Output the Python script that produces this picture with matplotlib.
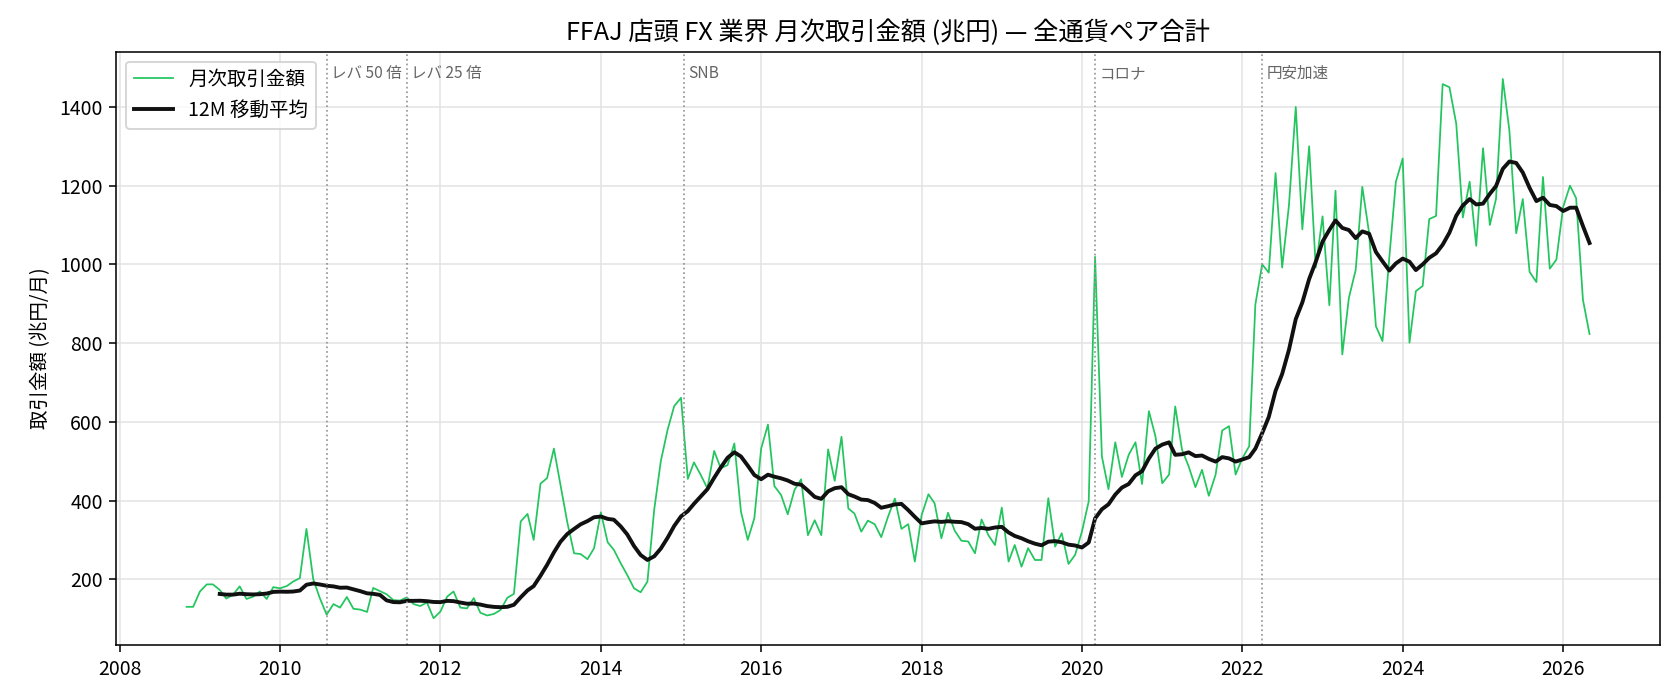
import numpy as np
import pandas as pd
import matplotlib
matplotlib.use("Agg")
import matplotlib.pyplot as plt
import matplotlib.dates as mdates

plt.rcParams['font.family'] = ['Noto Sans CJK JP', 'DejaVu Sans']
plt.rcParams['font.size'] = 10

# monthly volume (trillion yen), Nov 2008 - May 2026
start_month = "2008-11-01"
volume = [
    130, 130,
    169, 187, 187, 173, 151, 161, 182, 150, 156, 169, 150, 180,  # 2009
    177, 183, 194, 203, 328, 200, 152, 110, 137, 128, 155, 125,  # 2010
    123, 117, 178, 170, 162, 147, 146, 154, 137, 132, 141, 101,  # 2011
    118, 156, 169, 128, 126, 152, 115, 108, 112, 122, 153, 163,  # 2012
    347, 366, 300, 443, 457, 532, 440, 345, 266, 264, 251, 279,  # 2013
    370, 294, 275, 241, 211, 177, 167, 194, 377, 500, 580, 640,  # 2014
    661, 455, 497, 465, 431, 526, 482, 490, 545, 372, 300, 355,  # 2015
    532, 593, 437, 414, 365, 427, 454, 312, 350, 312, 530, 450,  # 2016
    562, 380, 367, 321, 349, 340, 307, 359, 405, 328, 340, 245,  # 2017
    363, 416, 393, 304, 369, 323, 298, 296, 266, 352, 312, 287,  # 2018
    382, 245, 287, 232, 279, 249, 249, 406, 283, 317, 239, 262,  # 2019
    321, 398, 1019, 512, 429, 548, 460, 516, 548, 442, 627, 563,  # 2020
    444, 466, 639, 529, 487, 434, 478, 412, 466, 578, 589, 466,  # 2021
    508, 538, 898, 1000, 979, 1232, 992, 1150, 1400, 1089, 1300, 992,  # 2022
    1122, 896, 1187, 771, 915, 986, 1197, 1080, 843, 805, 1017, 1210,  # 2023
    1269, 801, 932, 945, 1115, 1123, 1458, 1450, 1357, 1119, 1210, 1047,  # 2024
    1295, 1100, 1166, 1471, 1340, 1079, 1166, 981, 955, 1222, 989, 1012,  # 2025
    1146, 1200, 1168, 910, 823,  # 2026
]

event_dates = ["2010-08-01", "2011-08-01", "2015-01-15", "2020-03-01", "2022-04-01"]
event_labels = ["レバ 50 倍", "レバ 25 倍", "SNB", "コロナ", "円安加速"]

months = pd.date_range(start_month, periods=len(volume), freq="MS")
s = pd.Series(volume, index=months, dtype=float)
ma12 = s.rolling(12, min_periods=6).mean()

fig, ax = plt.subplots(figsize=(12, 5), dpi=140)
fig.subplots_adjust(left=0.0693, right=0.9879, bottom=0.078, top=0.926)

ax.plot(s.index, s.values, color="#22c55e", lw=0.9, label="月次取引金額")
ax.plot(ma12.index, ma12.values, color="#111111", lw=2, label="12M 移動平均")

for d, lab in zip(event_dates, event_labels):
    d = pd.Timestamp(d)
    ax.axvline(d, color="#999999", ls=":", lw=0.9)
    ax.text(d + pd.Timedelta(days=20), 0.978, lab, transform=ax.get_xaxis_transform(),
            fontsize=8, color="#666666", va="top", ha="left")

ax.set_ylim(32, 1540)
ax.xaxis.set_major_locator(mdates.YearLocator(2))
ax.xaxis.set_major_formatter(mdates.DateFormatter("%Y"))
ax.grid(True, color="#e3e3e3", lw=0.8)
ax.set_axisbelow(True)

ax.set_title("FFAJ 店頭 FX 業界 月次取引金額 (兆円) — 全通貨ペア合計", fontsize=13)
ax.set_ylabel("取引金額 (兆円/月)")
ax.legend(loc="upper left")

fig.savefig("out.png", dpi=140)
